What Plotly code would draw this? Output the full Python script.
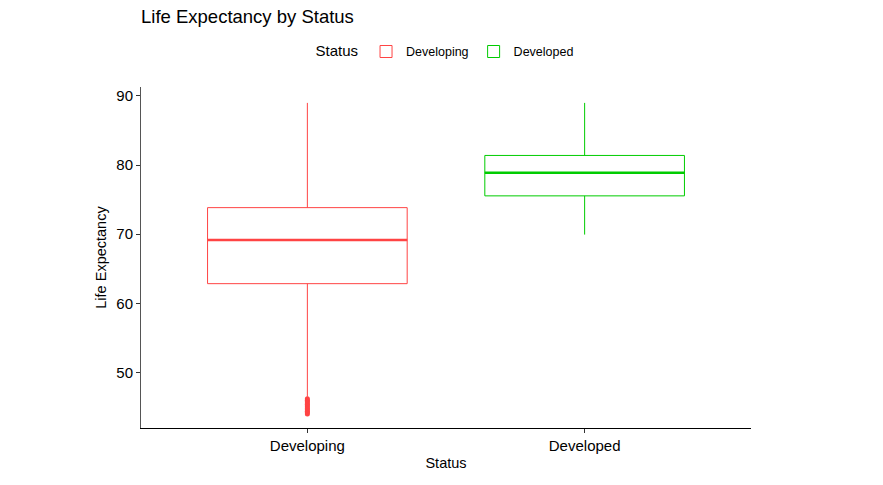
import plotly.graph_objects as go

categories = ["Developing", "Developed"]
positions = [1, 2]
q1 = [62.85, 75.55]
medians = [69.15, 78.9]
q3 = [73.85, 81.4]
lower_whisker = [46.5, 69.95]
upper_whisker = [89.0, 89.0]
dev_outliers = [44.0, 44.2, 44.4, 44.6, 44.8, 45.0, 45.2, 45.4, 45.6, 45.8, 46.0, 46.2]
colors = ["#FF4444", "#00CC00"]
box_width = 0.72

fig = go.Figure()
for i, cat in enumerate(categories):
    fig.add_trace(go.Box(
        x=[positions[i]], q1=[q1[i]], median=[medians[i]], q3=[q3[i]],
        lowerfence=[lower_whisker[i]], upperfence=[upper_whisker[i]],
        name=cat, legendgroup=cat, width=box_width, whiskerwidth=0,
        line=dict(color=colors[i], width=1), fillcolor="rgba(255,255,255,0)",
        boxpoints=False, showlegend=True,
    ))
    fig.add_trace(go.Scatter(
        x=[positions[i] - box_width / 2, positions[i] + box_width / 2],
        y=[medians[i], medians[i]], mode="lines",
        line=dict(color=colors[i], width=2.5), showlegend=False,
        legendgroup=cat, hoverinfo="skip",
    ))

fig.add_trace(go.Scatter(
    x=[positions[0]] * len(dev_outliers), y=dev_outliers, mode="markers",
    marker=dict(color=colors[0], size=5), showlegend=False, hoverinfo="skip",
))

W, H = 875, 477
fig.update_layout(
    width=W, height=H,
    paper_bgcolor="white", plot_bgcolor="white",
    font=dict(family="Liberation Sans, Arial, sans-serif", color="black"),
    margin=dict(l=133, r=132, t=79, b=57, autoexpand=False),
    title=dict(text="Life Expectancy by Status", x=133 / W, xanchor="left",
               y=1, yanchor="top", pad=dict(t=2), font=dict(size=18.5)),
    legend=dict(orientation="h", x=0.5, xanchor="center", y=1.103, yanchor="middle",
                title=dict(text="Status", font=dict(size=15)),
                font=dict(size=12.5)),
    xaxis=dict(range=[0.4, 2.6], tickvals=positions, ticktext=categories,
               showgrid=False, zeroline=False, showline=True, linecolor="black",
               linewidth=1, ticks="outside", ticklen=4, tickcolor="#333",
               tickfont=dict(size=15), title=dict(text="Status", font=dict(size=14.5), standoff=4)),
    yaxis=dict(range=[41.97, 91.3], tickvals=[50, 60, 70, 80, 90],
               showgrid=False, zeroline=False, showline=True, linecolor="#555",
               linewidth=1, ticks="outside", ticklen=4, tickcolor="#333",
               tickfont=dict(size=15), title=dict(text="Life Expectancy", font=dict(size=14.5), standoff=6)),
)

fig.write_html("out.html")
